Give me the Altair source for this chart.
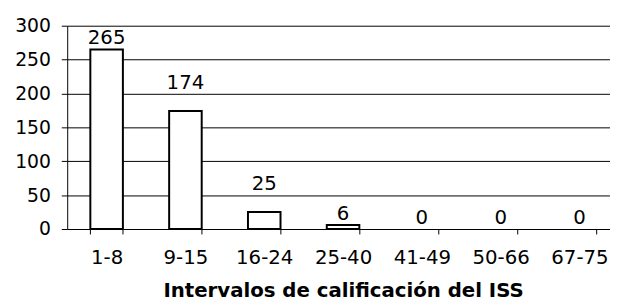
import altair as alt
import pandas as pd

categories = ["1-8", "9-15", "16-24", "25-40", "41-49", "50-66", "67-75"]
counts = [265, 174, 25, 6, 0, 0, 0]
raised_labels = ["9-15", "16-24"]  # labels placed higher above their bars in the original

df = pd.DataFrame({"cat": categories, "n": counts})
df["raised"] = df["cat"].isin(raised_labels)

FONT = "DejaVu Sans"
W = 550
FULL = 559  # plot continues past the right edge of the picture

xscale = alt.Scale(range=[0, FULL], paddingInner=0.587, paddingOuter=0.2935)

x = alt.X("cat:N", sort=categories, scale=xscale,
          axis=alt.Axis(title="Intervalos de calificación del ISS", labelAngle=0,
                        tickBand="extent", tickSize=5, tickColor="#000", domainColor="#000",
                        labelFont=FONT, labelFontSize=20, labelColor="#000", labelPadding=14,
                        titleFont=FONT, titleFontSize=20, titleFontWeight="bold", titleColor="#000",
                        titlePadding=13, titleX=FULL / 2, grid=False))
y = alt.Y("n:Q", scale=alt.Scale(domain=[0, 300]),
          axis=alt.Axis(title=None, values=[0, 50, 100, 150, 200, 250, 300], labelOverlap=False,
                        tickSize=6, tickColor="#000", domainColor="#000",
                        labelFont=FONT, labelFontSize=19, labelColor="#000", labelPadding=11,
                        grid=True, gridColor="#000", gridWidth=1))

base = alt.Chart(df).encode(x=x, y=y)
bars = base.mark_bar(fill="white", stroke="black", strokeWidth=2).transform_filter("datum.n > 0")
labels = base.mark_text(dy=-5, baseline="alphabetic", font=FONT, fontSize=20, color="black").encode(
    text="n:Q").transform_filter("!datum.raised")
labels_hi = base.mark_text(dy=-22, baseline="alphabetic", font=FONT, fontSize=20, color="black").encode(
    text="n:Q").transform_filter("datum.raised")

chart = (bars + labels + labels_hi).properties(
    width=W, height=206,
    autosize=alt.AutoSizeParams(type="none"),
    padding={"left": 60, "top": 16, "right": 0, "bottom": 71},
).configure_view(stroke=None)

chart.save("out.html", embed_options={"renderer": "svg", "actions": False})
